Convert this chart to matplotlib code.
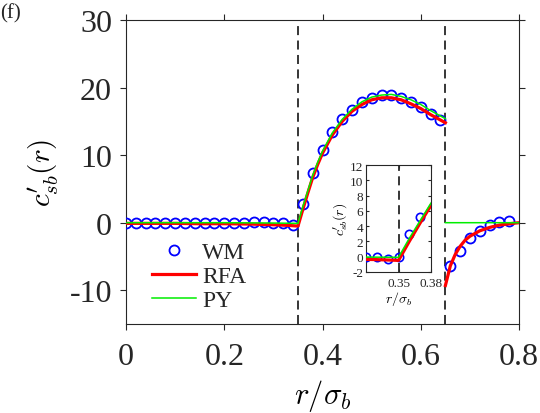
import matplotlib.pyplot as plt
import numpy as np

# ---- data ----
wm_x = [0.00, 0.02, 0.04, 0.06, 0.08, 0.10, 0.12, 0.14, 0.16, 0.18, 0.20, 0.22,
        0.24, 0.26, 0.28, 0.30, 0.32, 0.34,
        0.36, 0.38, 0.40, 0.42, 0.44, 0.46, 0.48, 0.50, 0.52, 0.54, 0.56,
        0.58, 0.60, 0.62, 0.64,
        0.66, 0.68, 0.70, 0.72, 0.74, 0.76, 0.78]
wm_y = [0.0, 0.0, 0.0, 0.0, 0.0, 0.0, 0.0, 0.0, 0.0, 0.0, 0.0, 0.0,
        0.0, 0.1, 0.1, 0.0, 0.0, -0.3,
        2.8, 7.4, 10.8, 13.4, 15.3, 16.7, 17.9, 18.5, 18.9, 18.9, 18.5,
        17.9, 17.1, 16.1, 15.2,
        -6.4, -4.2, -2.2, -1.2, -0.4, 0.1, 0.3]

rfa_x = [0.00, 0.05, 0.10, 0.15, 0.20, 0.25, 0.30, 0.33, 0.35,
         0.36, 0.37, 0.38, 0.39, 0.40, 0.42, 0.44, 0.46, 0.48, 0.50,
         0.52, 0.54, 0.56, 0.58, 0.60, 0.62, 0.64, 0.65,
         np.nan,
         0.65, 0.66, 0.67, 0.68, 0.69, 0.70, 0.72, 0.74, 0.76, 0.78, 0.80]
rfa_y = [-0.1, -0.1, -0.1, -0.15, -0.15, -0.2, -0.3, -0.4, -0.5,
         2.0, 4.4, 6.7, 8.6, 10.3, 13.0, 15.0, 16.5, 17.5, 18.2,
         18.5, 18.5, 18.2, 17.6, 16.9, 16.0, 15.2, 14.8,
         np.nan,
         -9.3, -6.4, -4.7, -3.5, -2.6, -2.0, -1.2, -0.7, -0.35, -0.15, 0.0]

py_x = [0.00, 0.10, 0.20, 0.30, 0.35,
        0.36, 0.37, 0.38, 0.39, 0.40, 0.42, 0.44, 0.46, 0.48, 0.50,
        0.52, 0.54, 0.56, 0.58, 0.60, 0.62, 0.64, 0.65,
        np.nan,
        0.65, 0.80]
py_y = [0.0, 0.0, 0.0, -0.05, -0.1,
        2.4, 4.7, 7.0, 8.9, 10.6, 13.3, 15.3, 16.8, 17.9, 18.6,
        18.9, 19.0, 18.7, 18.2, 17.5, 16.6, 15.8, 15.4,
        np.nan,
        0.0, 0.0]

# inset WM points (finer spacing)
wm_in_x = [0.32, 0.33, 0.34, 0.35, 0.36, 0.37]
wm_in_y = [0.0, 0.0, -0.3, 0.0, 2.9, 5.2]

r_core = 0.35
r_wall = 0.65

# ---- style ----
plt.rcParams.update({
    "font.family": "Liberation Serif",
    "mathtext.fontset": "cm",
    "axes.unicode_minus": False,
    "text.color": "#262626",
    "axes.edgecolor": "#262626",
    "xtick.color": "#262626",
    "ytick.color": "#262626",
})

fig = plt.figure(figsize=(5.4, 4.14), dpi=100)
ax = fig.add_axes([0.2333, 0.215, 0.728, 0.734])

ax.plot(wm_x, wm_y, 'o', mfc='none', mec='#0000ff', ms=7.2, mew=1.3, label='WM', zorder=3)
ax.plot(rfa_x, rfa_y, '-', color='#ff0000', lw=2.3, label='RFA', zorder=4)
ax.plot(py_x, py_y, '-', color='#00ee00', lw=1.1, label='PY', zorder=5)
for xv in (r_core, r_wall):
    ax.axvline(xv, color='#262626', ls=(0, (5, 3)), lw=1.3, zorder=2)

ax.set_xlim(0, 0.8)
ax.set_ylim(-15, 30)
ax.set_xticks([0, 0.2, 0.4, 0.6, 0.8])
ax.set_xticklabels(['0', '0.2', '0.4', '0.6', '0.8'])
ax.set_yticks([-10, 0, 10, 20, 30])
ax.tick_params(direction='out', length=4, labelsize=23, top=True, right=True)
ax.tick_params(axis='x', pad=9)
ax.tick_params(axis='y', pad=6)
ax.set_xlabel(r'$r/\sigma_b$', fontsize=22, labelpad=4)
ax.set_ylabel(r"$c^{\prime}_{sb}(r)$", fontsize=21, labelpad=6)

ax.legend(loc='upper left', bbox_to_anchor=(0.025, 0.325), frameon=False,
          fontsize=17, handlelength=1.85, labelspacing=0.1, handletextpad=0.25,
          borderpad=0.2, numpoints=1)

fig.text(0.0, 0.99, '(f)', fontsize=15, va='top', ha='left')

# ---- inset ----
axi = fig.add_axes([0.678, 0.341, 0.120, 0.258])
axi.plot(wm_in_x, wm_in_y, 'o', mfc='none', mec='#0000ff', ms=6, mew=1.2, zorder=3)
axi.plot(rfa_x, rfa_y, '-', color='#ff0000', lw=2.3, zorder=4)
axi.plot(py_x, py_y, '-', color='#00ee00', lw=1.1, zorder=5)
axi.axvline(r_core, color='#262626', ls=(0, (5, 3)), lw=1.3, zorder=2)
axi.set_xlim(0.32, 0.38)
axi.set_ylim(-2, 12)
axi.set_xticks([0.35, 0.38])
axi.set_xticklabels(['0.35', '0.38'])
axi.set_yticks([-2, 0, 2, 4, 6, 8, 10, 12])
axi.tick_params(direction='in', length=2, labelsize=9.5, top=True, right=True, pad=2)
axi.tick_params(axis='x', pad=4)
axi.set_xlabel(r'$r/\sigma_b$', fontsize=10, labelpad=0)
axi.set_ylabel(r"$c^{\prime}_{sb}(r)$", fontsize=10, labelpad=0)

fig.savefig('out.png', dpi=100)
